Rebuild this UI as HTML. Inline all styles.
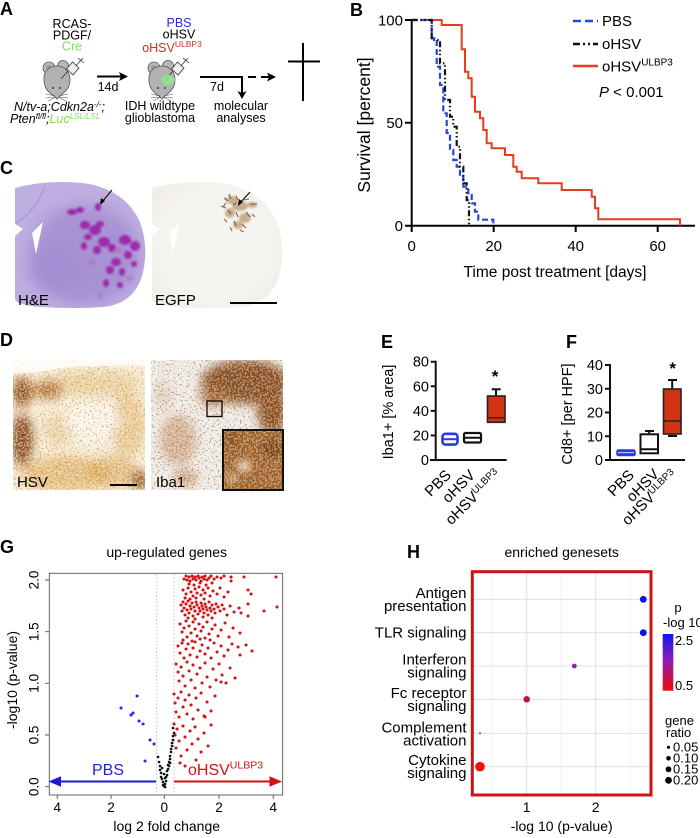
<!DOCTYPE html>
<html><head><meta charset="utf-8">
<style>
html,body{margin:0;padding:0;background:#fff;}
svg{display:block}
text{font-family:"Liberation Sans",Arial,sans-serif;}
</style></head>
<body>
<svg width="700" height="838" viewBox="0 0 700 838" xmlns="http://www.w3.org/2000/svg">
<defs>
  <g id="mouse">
    <ellipse cx="-8" cy="-12" rx="6" ry="6" fill="#b8b8b8" stroke="#555" stroke-width="0.8"/>
    <ellipse cx="-8" cy="-12" rx="3" ry="3" fill="#999"/>
    <ellipse cx="6" cy="-14" rx="5.5" ry="5.5" fill="#b8b8b8" stroke="#555" stroke-width="0.8"/>
    <path d="M-13,0 C-14,-10 -6,-14 0,-14 C8,-14 13,-8 13,0 C13,8 8,12 3,16 L0,19 L-3,16 C-9,12 -13,8 -13,0 Z" fill="#b2b2b2" stroke="#555" stroke-width="0.8"/>
    <circle cx="-4" cy="8" r="0.9" fill="#222"/>
    <circle cx="3" cy="8" r="0.9" fill="#222"/>
    <g stroke="#444" stroke-width="0.5">
      <path d="M-2,16 L-11,14 M-2,17 L-11,18 M-2,17.5 L-9,21 M2,16 L11,14 M2,17 L11,18 M2,17.5 L9,21"/>
    </g>
    <g stroke="#333" stroke-width="0.8" fill="none">
      <path d="M4,-1 L11,-9"/>
      <path d="M9.5,-10.5 L16,-4.5 L22,-11.5 L15.5,-17.5 Z" fill="#eee" transform="translate(0,-0.5)"/>
      <path d="M19,-14 L24,-20 M21,-22 L27,-17 M23,-19 L26,-22"/>
    </g>
  </g>
  <filter id="blur3" x="-30%" y="-30%" width="160%" height="160%"><feGaussianBlur stdDeviation="3"/></filter>
  <filter id="blur5" x="-30%" y="-30%" width="160%" height="160%"><feGaussianBlur stdDeviation="5"/></filter>
  <filter id="blur8" x="-30%" y="-30%" width="160%" height="160%"><feGaussianBlur stdDeviation="8"/></filter>
  <filter id="blur1" x="-30%" y="-30%" width="160%" height="160%"><feGaussianBlur stdDeviation="1"/></filter>
  <filter id="spkW" x="0" y="0" width="1" height="1" color-interpolation-filters="sRGB">
    <feTurbulence type="fractalNoise" baseFrequency="0.55" numOctaves="1" seed="4"/>
    <feColorMatrix type="matrix" values="0 0 0 0 1  0 0 0 0 0.98  0 0 0 0 0.95  -14 0 0 0 7.2"/>
  </filter>
  <filter id="spkG" x="0" y="0" width="1" height="1" color-interpolation-filters="sRGB">
    <feTurbulence type="fractalNoise" baseFrequency="0.5" numOctaves="1" seed="9"/>
    <feColorMatrix type="matrix" values="0 0 0 0 0.8  0 0 0 0 0.56  0 0 0 0 0.2  14 0 0 0 -8"/>
  </filter>
  <filter id="spkB" x="0" y="0" width="1" height="1" color-interpolation-filters="sRGB">
    <feTurbulence type="fractalNoise" baseFrequency="0.5" numOctaves="1" seed="5"/>
    <feColorMatrix type="matrix" values="0 0 0 0 0.58  0 0 0 0 0.33  0 0 0 0 0.12  14 0 0 0 -8.2"/>
  </filter>
  <clipPath id="cHE"><path d="M15,188 C30,184 45,182 60,182 C75,182 90,183 100,187 C118,193 130,203 138,218 C146,235 147,255 143,272 C139,290 128,302 110,306 C90,309 60,308 40,307 C28,306 18,304 15,300 L15,236 L23,229 L15,224 Z"/></clipPath>
  <clipPath id="cEG"><path transform="translate(137,0)" d="M15,188 C30,184 45,182 60,182 C75,182 90,183 100,187 C118,193 130,203 138,218 C146,235 147,255 143,272 C139,290 128,302 110,306 C90,309 60,308 40,307 C28,306 18,304 15,300 L15,236 L23,229 L15,224 Z"/></clipPath>
  <clipPath id="cHSV"><rect x="13" y="360" width="132" height="130"/></clipPath>
  <clipPath id="cIBA"><rect x="151" y="360" width="132" height="130"/></clipPath>
  <clipPath id="cINS"><rect x="223" y="430" width="60" height="60"/></clipPath>
  <clipPath id="cG"><rect x="49.3" y="573.3" width="233.4" height="221.7"/></clipPath>
  <linearGradient id="cbar" x1="0" y1="0" x2="0" y2="1">
    <stop offset="0" stop-color="#1414f5"/>
    <stop offset="0.45" stop-color="#8a1cb8"/>
    <stop offset="1" stop-color="#f20a0a"/>
  </linearGradient>
</defs>
<rect x="0" y="0" width="700" height="838" fill="#fff"/>

<!-- Panel labels -->
<g font-weight="bold" font-size="18" fill="#000">
  <text x="0" y="15">A</text>
  <text x="350" y="16">B</text>
  <text x="0" y="174">C</text>
  <text x="0" y="346">D</text>
  <text x="381" y="348">E</text>
  <text x="566" y="348">F</text>
  <text x="0" y="553">G</text>
  <text x="407" y="558">H</text>
</g>

<!-- ============ A ============ -->
<g font-size="12.5" text-anchor="middle">
  <text x="72" y="28">RCAS-</text>
  <text x="72" y="39.5">PDGF/</text>
  <text x="72" y="50.5" fill="#7de05a">Cre</text>
  <text x="179" y="27" fill="#2a2ae0">PBS</text>
  <text x="179" y="38.5">oHSV</text>
  <text x="172" y="52" fill="#e02828">oHSV<tspan font-size="8.5" dy="-5">ULBP3</tspan></text>
  <text x="160" y="110">IDH wildtype</text>
  <text x="160" y="122">glioblastoma</text>
  <text x="241" y="110">molecular</text>
  <text x="241" y="122">analyses</text>
  <text x="108" y="91">14d</text>
  <text x="217" y="91">7d</text>
</g>
<text x="14" y="111" font-size="12.5" font-style="italic">N/tv-a;Cdkn2a<tspan font-size="8" dy="-4">-/-</tspan><tspan dy="4">;</tspan></text>
<text x="10" y="123" font-size="12.5" font-style="italic">Pten<tspan font-size="8" dy="-4">fl/fl</tspan><tspan dy="4">;</tspan><tspan fill="#7de05a">Luc</tspan><tspan fill="#7de05a" font-size="8" dy="-4">LSL/LSL</tspan></text>
<use href="#mouse" x="57" y="80"/>
<use href="#mouse" x="162" y="80"/>
<ellipse cx="168" cy="80" rx="7" ry="5" fill="#8ee68a" opacity="0.9"/>
<g stroke="#000" stroke-width="2" fill="none">
  <path d="M97,76.5 H121"/>
  <path d="M200,77 H242 V93"/>
  <path d="M248,77 H256 M261,77 H269" />
  <path d="M303,43 V101 M288,61.5 H320"/>
</g>
<g fill="#000">
  <path d="M128,76.5 L119,72 L121,76.5 L119,81 Z"/>
  <path d="M242,99 L237.5,91 L242,93 L246.5,91 Z"/>
  <path d="M276,77 L267,72.5 L269,77 L267,81.5 Z"/>
</g>

<!-- ============ B ============ -->
<g stroke="#000" stroke-width="2" fill="none">
  <path d="M411.7,19 V225.7 M405,225.7 H695"/>
  <path d="M405,20 H411.7 M405,122.8 H411.7"/>
  <path d="M411.7,225.7 V232 M493.7,225.7 V232 M575.7,225.7 V232 M657.7,225.7 V232"/>
</g>
<g font-size="15" text-anchor="end">
  <text x="403" y="25.5">100</text>
  <text x="403" y="128">50</text>
  <text x="403" y="231">0</text>
</g>
<g font-size="15" text-anchor="middle">
  <text x="411.7" y="251">0</text>
  <text x="493.7" y="251">20</text>
  <text x="575.7" y="251">40</text>
  <text x="657.7" y="251">60</text>
</g>
<text x="555" y="277" font-size="15.5" text-anchor="middle">Time post treatment [days]</text>
<text transform="translate(370,125) rotate(-90)" font-size="17.5" text-anchor="middle">Survival [percent]</text>
<path d="M421.7,20 H441.7 V25 H461.7 V49.3 H465 V71.7 H468.3 V78.3 H471.7 V96.7 H475 V111.7 H480 V118.3 H483.3 V130 H486.7 V143.3 H491.7 V148.3 H505 V155 H513.3 V166.7 H516.7 V171.7 H521.7 V178.3 H538.3 V183.3 H561.7 V190 H591.7 V196.7 H595 V208.3 H598.3 V219.3 H680 V225.7" fill="none" stroke="#e53d1e" stroke-width="2"/>
<path d="M411.7,20 H431.7 V38.3 H436.7 V66.7 H440 V85 H443.3 V113.3 H446.7 V133 H450 V150 H453.3 V160 H456.7 V166.7 H460 V176.7 H463.3 V186.7 H468.3 V193.3 H471.7 V203.3 H475 V211.7 H478.3 V219.7 H493.3 V225.7" fill="none" stroke="#2446e0" stroke-width="2.2" stroke-dasharray="6 3"/>
<path d="M411.7,20 H431.7 V40 H440 V63.3 H445 V100 H450 V116.7 H453.3 V126.7 H456.7 V146.7 H460 V166.7 H463.3 V183.3 H466.7 V200 H469 V225.7" fill="none" stroke="#111" stroke-width="2.2" stroke-dasharray="6 2.5 1.5 2.5 1.5 2.5"/>
<g stroke-width="2.5" fill="none">
  <path d="M573,21 H598" stroke="#2446e0" stroke-dasharray="8 4"/>
  <path d="M573,44 H598" stroke="#111" stroke-dasharray="7 3 2 3 2 3"/>
  <path d="M573,66 H598" stroke="#e53d1e"/>
</g>
<g font-size="15">
  <text x="602" y="26">PBS</text>
  <text x="602" y="49">oHSV</text>
  <text x="602" y="71.5">oHSV<tspan font-size="10" dy="-6">ULBP3</tspan></text>
  <text x="599" y="97"><tspan font-style="italic">P</tspan> &lt; 0.001</text>
</g>

<!-- ============ C ============ -->
<g clip-path="url(#cHE)">
  <rect x="10" y="178" width="140" height="135" fill="#bfaee0"/>
  <ellipse cx="85" cy="255" rx="55" ry="50" fill="#a892d4" filter="url(#blur8)"/>
  <ellipse cx="55" cy="270" rx="25" ry="20" fill="#a28bd0" filter="url(#blur8)" opacity="0.7"/>
  <path d="M15,224 C30,215 40,200 45,186" fill="none" stroke="#a995d2" stroke-width="1.2"/>
  <g fill="#9c2caa" filter="url(#blur1)">
    <ellipse cx="72" cy="212" rx="5" ry="3"/>
    <ellipse cx="80" cy="210" rx="4" ry="3"/>
    <ellipse cx="98" cy="207" rx="3" ry="4"/>
    <ellipse cx="85" cy="225" rx="5" ry="4"/>
    <ellipse cx="95" cy="230" rx="6" ry="5"/>
    <ellipse cx="88" cy="237" rx="4" ry="3"/>
    <ellipse cx="100" cy="224" rx="4" ry="3"/>
    <ellipse cx="104" cy="242" rx="6" ry="5"/>
    <ellipse cx="97" cy="250" rx="4" ry="4"/>
    <ellipse cx="112" cy="248" rx="4" ry="4"/>
    <ellipse cx="125" cy="240" rx="6" ry="5"/>
    <ellipse cx="135" cy="246" rx="5" ry="5"/>
    <ellipse cx="128" cy="255" rx="4" ry="4"/>
    <ellipse cx="116" cy="262" rx="5" ry="4"/>
    <ellipse cx="110" cy="270" rx="4" ry="4"/>
    <ellipse cx="122" cy="272" rx="3" ry="4"/>
    <ellipse cx="134" cy="264" rx="3" ry="3"/>
    <ellipse cx="106" cy="283" rx="3" ry="4"/>
    <ellipse cx="120" cy="285" rx="3" ry="3"/>
    <ellipse cx="84" cy="246" rx="3" ry="4"/>
  </g>
  <g fill="#b070c8" opacity="0.6" filter="url(#blur1)">
    <ellipse cx="118" cy="250" rx="4" ry="3"/>
    <ellipse cx="130" cy="278" rx="4" ry="3"/>
    <ellipse cx="100" cy="296" rx="3" ry="3"/>
    <ellipse cx="92" cy="262" rx="3" ry="3"/>
  </g>
</g>
<path d="M43,222 L32,233 L36,254 Z" fill="#fff"/>
<g stroke="#000" stroke-width="1" fill="none"><path d="M112,190 L102,202"/></g>
<path d="M100,205 L101,198 L105,201 Z" fill="#000"/>
<text x="18" y="305" font-size="15">H&amp;E</text>

<g clip-path="url(#cEG)">
  <rect x="147" y="178" width="140" height="135" fill="#f1eee8"/>
  <ellipse cx="215" cy="245" rx="65" ry="65" fill="#f6f4f0" filter="url(#blur8)"/>
  <g filter="url(#blur1)" fill="#c4a684" opacity="0.9">
    <ellipse cx="232" cy="200" rx="6" ry="4"/>
    <ellipse cx="240" cy="206" rx="8" ry="5"/>
    <ellipse cx="230" cy="213" rx="5" ry="5"/>
    <ellipse cx="245" cy="218" rx="6" ry="5"/>
    <ellipse cx="238" cy="225" rx="5" ry="4"/>
    <ellipse cx="252" cy="205" rx="5" ry="3"/>
  </g>
  <g stroke="#7a5230" stroke-width="1.1" fill="none" opacity="0.9">
    <path d="M224,198 l4,3 M229,194 l2,5 M236,196 l2,4 M244,200 l5,-1 M250,204 l7,0 M221,206 l5,2 M228,210 l3,4 M236,212 l2,5 M246,212 l4,5 M234,221 l2,5 M242,224 l4,4 M252,214 l3,3 M224,219 l3,3 M240,230 l4,2 M230,227 l2,4 M226,203 l-3,4 M233,205 l3,-2"/>
  </g>
</g>
<path d="M180,222 L169,233 L173,254 Z" fill="#fff"/>
<g stroke="#000" stroke-width="1" fill="none"><path d="M250,192 L240,203"/><path d="M230,303 H277" stroke-width="2"/></g>
<path d="M238,206 L239,199 L243,202 Z" fill="#000"/>
<text x="155" y="305" font-size="15">EGFP</text>

<!-- ============ D ============ -->
<g clip-path="url(#cHSV)">
  <rect x="13" y="360" width="132" height="130" fill="#f6ecd8"/>
  <g filter="url(#blur5)">
    <ellipse cx="95" cy="384" rx="45" ry="14" fill="#e0b462" opacity="0.5"/>
    <ellipse cx="128" cy="425" rx="18" ry="32" fill="#dcaa52" opacity="0.55"/>
    <ellipse cx="65" cy="474" rx="45" ry="18" fill="#d9a24c" opacity="0.65"/>
    <ellipse cx="112" cy="472" rx="26" ry="16" fill="#d49a44" opacity="0.6"/>
    <ellipse cx="58" cy="430" rx="14" ry="16" fill="#deb068" opacity="0.45"/>
    <ellipse cx="22" cy="392" rx="10" ry="15" fill="#8e4a16"/>
    <ellipse cx="22" cy="440" rx="11" ry="26" fill="#844414"/>
    <ellipse cx="48" cy="390" rx="15" ry="10" fill="#a8621f" opacity="0.85"/>
    <ellipse cx="140" cy="480" rx="8" ry="10" fill="#8a4a14"/>
    <ellipse cx="92" cy="420" rx="26" ry="22" fill="#faf5ec"/>
  </g>
  <rect x="13" y="360" width="132" height="130" filter="url(#spkG)" opacity="0.55"/>
  <rect x="13" y="360" width="132" height="130" filter="url(#spkW)" opacity="0.45"/>
  <path d="M13,360 H145 V366 C120,364 100,368 80,366 C60,368 40,372 13,374 Z" fill="#fff" opacity="0.8"/>
</g>
<text x="17" y="487" font-size="15">HSV</text>
<path d="M110,485 H137" stroke="#000" stroke-width="2"/>

<g clip-path="url(#cIBA)">
  <rect x="151" y="360" width="132" height="130" fill="#eeebe7"/>
  <g filter="url(#blur5)">
    <ellipse cx="245" cy="382" rx="44" ry="22" fill="#834a1c"/>
    <ellipse cx="272" cy="410" rx="15" ry="25" fill="#884c1e"/>
    <ellipse cx="214" cy="396" rx="14" ry="10" fill="#9e5e2a" opacity="0.9"/>
    <ellipse cx="178" cy="440" rx="18" ry="26" fill="#caa07e" opacity="0.8"/>
    <ellipse cx="163" cy="395" rx="9" ry="14" fill="#dbc8b4" opacity="0.8"/>
    <ellipse cx="186" cy="478" rx="12" ry="8" fill="#bc8a5c" opacity="0.8"/>
  </g>
  <rect x="151" y="360" width="132" height="130" filter="url(#spkB)" opacity="0.45"/>
  <rect x="151" y="360" width="132" height="130" filter="url(#spkW)" opacity="0.4"/>
</g>
<rect x="207" y="401" width="15" height="15.5" fill="none" stroke="#111" stroke-width="1.4"/>
<g clip-path="url(#cINS)">
  <rect x="223" y="430" width="60" height="60" fill="#9c5e26"/>
  <g filter="url(#blur3)">
    <ellipse cx="244" cy="466" rx="7" ry="6" fill="#e8d8c2" opacity="0.8"/>
    <ellipse cx="232" cy="478" rx="6" ry="5" fill="#d8b890" opacity="0.7"/>
    <ellipse cx="272" cy="448" rx="10" ry="10" fill="#7e4216"/>
    <ellipse cx="232" cy="440" rx="9" ry="7" fill="#8a4c1c"/>
  </g>
  <rect x="223" y="430" width="60" height="60" filter="url(#spkW)" opacity="0.4"/>
</g>
<rect x="223" y="430" width="60" height="60" fill="none" stroke="#111" stroke-width="2"/>
<text x="156" y="487" font-size="15">Iba1</text>

<!-- ============ E ============ -->
<g stroke="#111" stroke-width="2" fill="none">
  <path d="M435.7,360.7 V460 M430,460 H506.7"/>
  <path d="M430.7,361.7H435.7M430.7,386.3H435.7M430.7,410.9H435.7M430.7,435.5H435.7"/>
</g>
<g font-size="14.5" text-anchor="end">
  <text x="429" y="366.7">80</text>
  <text x="429" y="391.3">60</text>
  <text x="429" y="415.9">40</text>
  <text x="429" y="440.5">20</text>
  <text x="429" y="465">0</text>
</g>
<text transform="translate(393,412) rotate(-90)" font-size="14.5" text-anchor="middle">Iba1+ [% area]</text>
<rect x="442.5" y="433.8" width="15" height="10.8" rx="3" fill="#fff" stroke="#2a3ae8" stroke-width="2.6"/>
<path d="M442.5,439.2 H457.5" stroke="#2a3ae8" stroke-width="2"/>
<rect x="464" y="433" width="17" height="9.5" rx="1.5" fill="#fff" stroke="#111" stroke-width="2.2"/>
<path d="M464,437.7 H481" stroke="#111" stroke-width="2"/>
<path d="M496,396 V389.3 M491.7,389.3 H500.7" stroke="#111" stroke-width="2"/>
<rect x="487.5" y="396" width="17.5" height="26.3" fill="#d03412" stroke="#222" stroke-width="1.6"/>
<path d="M487.5,417.7 H505" stroke="#5a1a08" stroke-width="1.5"/>
<text x="495" y="382" font-size="17" font-weight="bold" text-anchor="middle">*</text>
<g font-size="15" text-anchor="end">
  <text transform="translate(452,476) rotate(-45)">PBS</text>
  <text transform="translate(476,476) rotate(-45)">oHSV</text>
  <text transform="translate(501.5,475.5) rotate(-45)">oHSV<tspan font-size="10" dy="-5">ULBP3</tspan></text>
</g>

<!-- ============ F ============ -->
<g stroke="#111" stroke-width="2" fill="none">
  <path d="M610,364 V460 M605,460 H685"/>
  <path d="M605,365H610M605,388.75H610M605,412.5H610M605,436.25H610"/>
</g>
<g font-size="14.5" text-anchor="end">
  <text x="603" y="370">40</text>
  <text x="603" y="393.75">30</text>
  <text x="603" y="417.5">20</text>
  <text x="603" y="441.25">10</text>
  <text x="603" y="465">0</text>
</g>
<text transform="translate(572,414) rotate(-90)" font-size="14.5" text-anchor="middle">Cd8+ [per HPF]</text>
<rect x="617" y="450" width="18" height="5.5" rx="1.5" fill="#2a3ae8" stroke="#2a3ae8" stroke-width="1.5"/>
<path d="M618,452.7 H634" stroke="#fff" stroke-width="0.8"/>
<path d="M649.2,434.3 V431 M645,431 H654" stroke="#111" stroke-width="2"/>
<rect x="640.5" y="434.3" width="17.5" height="19" fill="#fff" stroke="#111" stroke-width="2"/>
<path d="M640.5,449.3 H658" stroke="#111" stroke-width="2"/>
<path d="M672.2,389 V380 M668,380 H677 M672.2,434 V436 M668,436 H677" stroke="#111" stroke-width="2"/>
<rect x="663.5" y="389" width="17.5" height="45" fill="#d03412" stroke="#222" stroke-width="1.6"/>
<path d="M663.5,421 H681" stroke="#222" stroke-width="1.6"/>
<text x="672.7" y="374" font-size="17" font-weight="bold" text-anchor="middle">*</text>
<g font-size="15" text-anchor="end">
  <text transform="translate(635,476) rotate(-45)">PBS</text>
  <text transform="translate(660,475) rotate(-45)">oHSV</text>
  <text transform="translate(678,476) rotate(-45)">oHSV<tspan font-size="10" dy="-5">ULBP3</tspan></text>
</g>

<!-- ============ G ============ -->
<text x="166.7" y="557" font-size="14" text-anchor="middle">up-regulated genes</text>
<g stroke="#bbb" stroke-width="0.9" stroke-dasharray="1.5 2">
  <path d="M156.7,574 V794 M174,574 V794"/>
</g>
<g clip-path="url(#cG)">
<path fill="none" stroke="#d01212" stroke-width="3" stroke-linecap="round" d="M184,579h.1M186,576h.1M187,580h.1M189,577h.1M190,581h.1M192,576h.1M193,579h.1M195,577h.1M196,580h.1M198,576h.1M199,578h.1M201,581h.1M202,577h.1M204,579h.1M205,576h.1M207,580h.1M209,578h.1M211,576h.1M214,579h.1M217,577h.1M221,578h.1M224,576h.1M231,577h.1M231,581h.1M244,577h.1M276,577h.1M189,584h.1M194,585h.1M200,583h.1M206,585h.1M212,583h.1
M183,590h.1M186,594h.1M188,588h.1M191,592h.1M193,596h.1M195,589h.1M197,593h.1M199,587h.1M201,595h.1M203,590h.1M205,593h.1M208,588h.1M210,596h.1M213,591h.1M217,594h.1M220,588h.1M224,597h.1M228,592h.1M248,590h.1M251,594h.1M185,598h.1M190,599h.1M196,598h.1M204,599h.1
M181,605h.1M182,611h.1M183,602h.1M184,608h.1M185,615h.1M186,604h.1M187,610h.1M188,601h.1M189,613h.1M190,606h.1M191,609h.1M192,603h.1M193,616h.1M194,607h.1M195,611h.1M196,602h.1M197,605h.1M198,614h.1M199,608h.1M200,611h.1M201,603h.1M202,606h.1M203,609h.1M204,613h.1M205,604h.1M206,607h.1M207,610h.1M208,615h.1M209,602h.1M210,608h.1M211,611h.1M212,605h.1M214,609h.1M215,613h.1M216,604h.1M218,607h.1M220,611h.1M222,605h.1M224,609h.1M227,615h.1M230,606h.1M234,612h.1M239,608h.1M241,613h.1M248,604h.1M248,616h.1M264,611h.1M277,607h.1M188,618h.1M195,619h.1M203,617h.1M212,618h.1
M180,624h.1M182,632h.1M184,628h.1M186,621h.1M187,637h.1M189,626h.1M191,633h.1M193,622h.1M195,629h.1M197,636h.1M199,624h.1M201,631h.1M203,627h.1M205,638h.1M207,622h.1M209,634h.1M212,629h.1M215,625h.1M218,636h.1M221,630h.1M225,623h.1M229,637h.1M233,628h.1M240,633h.1M183,640h.1M192,641h.1M200,639h.1M210,640h.1
M178,646h.1M180,653h.1M182,643h.1M184,658h.1M186,649h.1M188,644h.1M190,655h.1M193,648h.1M195,642h.1M197,657h.1M200,651h.1M202,645h.1M205,654h.1M208,648h.1M211,658h.1M214,643h.1M217,652h.1M221,646h.1M224,656h.1M228,650h.1M232,644h.1M238,647h.1M240,655h.1M246,645h.1M252,651h.1
M176,664h.1M178,672h.1M179,681h.1M181,667h.1M183,676h.1M185,686h.1M187,662h.1M189,671h.1M191,680h.1M193,665h.1M195,688h.1M197,674h.1M200,668h.1M202,683h.1M205,663h.1M207,677h.1M210,687h.1M213,669h.1M216,680h.1M219,664h.1M222,675h.1M226,683h.1M230,668h.1M235,678h.1M221,682h.1
M174,694h.1M175,703h.1M176,712h.1M178,698h.1M179,717h.1M181,692h.1M183,707h.1M185,700h.1M187,714h.1M189,695h.1M191,705h.1M193,719h.1M196,698h.1M198,710h.1M201,693h.1M204,716h.1M207,702h.1M211,711h.1M205,717h.1M215,696h.1
M174,724h.1M175,735h.1M176,748h.1M177,729h.1M179,741h.1M181,756h.1M183,726h.1M185,737h.1M187,750h.1M190,731h.1M192,744h.1M195,727h.1M198,739h.1M201,752h.1M204,733h.1M208,746h.1M211,725h.1M196,760h.1M180,763h.1M185,766h.1"/>
<path fill="none" stroke="#111" stroke-width="2.6" stroke-linecap="round" d="M158,757h.1M159,762h.1M160,766h.1M160,770h.1M161,773h.1M161,777h.1M162,779h.1M163,782h.1M163,785h.1M164,786h.1M165,787h.1M165,784h.1M166,781h.1M166,777h.1M167,775h.1M167,771h.1M168,769h.1M168,765h.1M169,762h.1M170,759h.1M170,756h.1M171,752h.1M171,749h.1M172,746h.1M172,743h.1M173,740h.1M173,736h.1M174,733h.1M173,728h.1M162,768h.1M164,774h.1M165,778h.1M169,766h.1M170,763h.1"/>
<path fill="none" stroke="#2424ee" stroke-width="3" stroke-linecap="round" d="M137,696h.1M121,708h.1M131,715h.1M133,713h.1M139,721h.1M143,724h.1M150,740h.1M154,744h.1M145,761h.1"/>
</g>
<path d="M156,781.5 H60" stroke="#1a1ad0" stroke-width="2"/>
<path d="M48.5,781.5 L61,776.3 L61,786.7 Z" fill="#1a1ad0"/>
<path d="M174,781.5 H272" stroke="#d01212" stroke-width="2"/>
<path d="M282,781.5 L269.5,776.3 L269.5,786.7 Z" fill="#d01212"/>
<text x="108" y="775" font-size="16" fill="#2222dd" text-anchor="middle">PBS</text>
<text x="188" y="775" font-size="16" fill="#d01212">oHSV<tspan font-size="10.5" dy="-6.5">ULBP3</tspan></text>
<rect x="49.3" y="573.3" width="233.4" height="221.7" fill="none" stroke="#555" stroke-width="0.9"/>
<g stroke="#555" stroke-width="0.9">
  <path d="M45,580H49.3M45,631.7H49.3M45,683.3H49.3M45,735H49.3M45,786.7H49.3"/>
  <path d="M57.3,795V799M111,795V799M164.3,795V799M219,795V799M273.3,795V799"/>
</g>
<g font-size="13.5" text-anchor="middle">
  <text transform="translate(38.5,580) rotate(-90)">2.0</text>
  <text transform="translate(38.5,631.7) rotate(-90)">1.5</text>
  <text transform="translate(38.5,683.3) rotate(-90)">1.0</text>
  <text transform="translate(38.5,735) rotate(-90)">0.5</text>
  <text transform="translate(38.5,786.7) rotate(-90)">0.0</text>
  <text x="57.3" y="812">4</text>
  <text x="111" y="812">2</text>
  <text x="164.3" y="812">0</text>
  <text x="219" y="812">2</text>
  <text x="273.3" y="812">4</text>
</g>
<text x="166.7" y="831" font-size="14" text-anchor="middle">log 2 fold change</text>
<text transform="translate(17,680) rotate(-90)" font-size="14" text-anchor="middle">-log10 (p-value)</text>

<!-- ============ H ============ -->
<text x="561.7" y="557" font-size="14" text-anchor="middle">enriched genesets</text>
<g stroke="#ececec" stroke-width="0.8">
  <path d="M492.2,572V795M561.2,572V795M630.2,572V795"/>
</g>
<g stroke="#e2e2e2" stroke-width="1.1">
  <path d="M526.7,572V795M595.7,572V795"/>
  <path d="M472,599.3H651M472,632.7H651M472,666H651M472,699.3H651M472,733.3H651M472,766.7H651"/>
</g>
<circle cx="643.3" cy="599.3" r="3.4" fill="#1212ee"/>
<circle cx="643.3" cy="632.7" r="3.4" fill="#1212ee"/>
<circle cx="574.3" cy="666" r="2.4" fill="#8a22b2"/>
<circle cx="526.7" cy="699.3" r="3.3" fill="#c0145a"/>
<circle cx="480" cy="733.3" r="1" fill="#d0183a"/>
<circle cx="480" cy="766.7" r="4.8" fill="#ea1212"/>
<rect x="472.3" y="571.7" width="178.7" height="223.3" fill="none" stroke="#cc1414" stroke-width="3"/>
<g font-size="15" text-anchor="end">
  <text x="466.5" y="598">Antigen</text>
  <text x="466.5" y="611">presentation</text>
  <text x="466.5" y="637.5">TLR signaling</text>
  <text x="466.5" y="664.5">Interferon</text>
  <text x="466.5" y="677.5">signaling</text>
  <text x="466.5" y="698">Fc receptor</text>
  <text x="466.5" y="711">signaling</text>
  <text x="466.5" y="732.5">Complement</text>
  <text x="466.5" y="745.5">activation</text>
  <text x="466.5" y="765">Cytokine</text>
  <text x="466.5" y="778">signaling</text>
</g>
<g font-size="14" text-anchor="middle">
  <text x="526.7" y="812">1</text>
  <text x="595.7" y="812">2</text>
  <text x="561.7" y="831">-log 10 (p-value)</text>
</g>
<g font-size="13">
  <text x="678" y="612" text-anchor="middle">p</text>
  <text x="663" y="627">-log 10</text>
  <text x="675" y="645">2.5</text>
  <text x="675" y="690">0.5</text>
  <text x="665" y="725">gene</text>
  <text x="666" y="737">ratio</text>
  <text x="673" y="751.5">0.05</text>
  <text x="673" y="762.5">0.10</text>
  <text x="673" y="773.5">0.15</text>
  <text x="673" y="784.5">0.20</text>
</g>
<rect x="662.7" y="634" width="10.6" height="56.7" fill="url(#cbar)"/>
<g fill="#000">
  <circle cx="668.5" cy="747.3" r="1.6"/>
  <circle cx="668.5" cy="758.3" r="2.3"/>
  <circle cx="668.5" cy="769.3" r="2.9"/>
  <circle cx="668.5" cy="780.3" r="3.4"/>
</g>
</svg>
</body></html>
